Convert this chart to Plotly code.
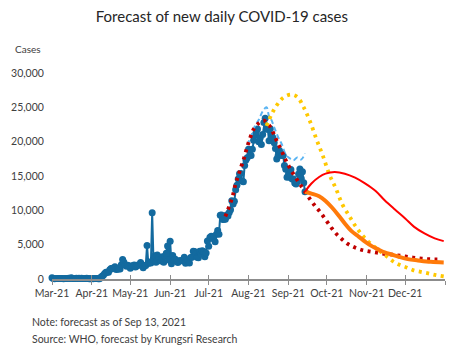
import pandas as pd
import plotly.graph_objects as go

# ---------------- data ----------------
obs_start = "2021-03-01"
obs_mar = [172, 91, 47, 65, 59, 70, 66, 61, 63, 47, 77, 61, 84, 94, 70, 181, 82, 87, 72, 95,
           61, 107, 69, 103, 85, 78, 90, 98, 76, 42, 42]
obs_apr = [56, 47, 84, 89, 84, 41, 48, 250, 405, 559, 789, 967, 985, 965, 1335, 1543, 1582, 1547,
           1767, 1390, 1443, 1458, 1470, 2070, 2839, 2438, 2048, 1871, 2012, 1902]
obs_may = [1583, 1891, 1940, 2041, 1763, 1911, 2044, 2052, 2419, 2101, 1630, 1919, 1983, 4887,
           2256, 2474, 2337, 9635, 2815, 3394, 2438, 3481, 3052, 2713, 2629, 3226, 2455, 3323,
           3759, 4803, 2771]
obs_jun = [5485, 2230, 3440, 2742, 2885, 2601, 2419, 2671, 2662, 2680, 2635, 3175, 2290, 2804,
           2662, 2331, 3129, 3174, 4059, 4006, 3682, 3175, 3097, 4059, 3644, 4108, 3995, 3245,
           3799, 5533]
obs_jul = [4786, 6087, 6230, 5916, 6166, 5420, 6519, 7058, 6519, 9276, 9326, 8656, 8685, 8685,
           9317, 9186, 9692, 10082, 11397, 10928, 11305, 13002, 13655, 14575, 15335, 15376,
           14260, 14150, 16533, 17345, 17669]
obs_aug = [18912, 18027, 17970, 18901, 20200, 20920, 21379, 21838, 19983, 20515, 19603, 21038,
           22782, 23418, 21808, 21839, 20128, 21882, 20902, 20571, 19851, 19014, 17491, 17915,
           18702, 18501, 17984, 17984, 16536, 15972, 14802]
obs_sep = [15100, 14802, 15942, 14555, 14555, 13988, 13821, 14176, 15300, 16030, 14657, 15614,
           14029, 12709]
observed = obs_mar + obs_apr + obs_may + obs_jun + obs_jul + obs_aug + obs_sep
obs_dates = pd.date_range(obs_start, periods=len(observed), freq="D")

lb_dates = ["2021-07-31", "2021-08-03", "2021-08-06", "2021-08-09", "2021-08-12", "2021-08-15",
            "2021-08-17", "2021-08-19", "2021-08-21", "2021-08-24", "2021-08-27", "2021-08-30",
            "2021-09-02", "2021-09-05", "2021-09-08", "2021-09-11", "2021-09-14"]
lb_values = [19500, 20800, 22300, 23200, 24400, 25000, 23700, 23100, 22100, 20700, 19600, 18100,
             17600, 17300, 17700, 17400, 18300]

fit_dates = ["2021-07-14", "2021-07-16", "2021-07-18", "2021-07-20", "2021-07-22", "2021-07-24",
             "2021-07-26", "2021-07-28", "2021-07-30", "2021-08-02", "2021-08-05", "2021-08-09",
             "2021-08-13", "2021-08-17", "2021-08-20", "2021-08-23", "2021-08-27", "2021-08-30",
             "2021-09-03", "2021-09-09", "2021-09-13", "2021-09-18", "2021-09-22", "2021-09-26",
             "2021-10-01", "2021-10-05", "2021-10-09", "2021-10-13", "2021-10-17", "2021-10-22",
             "2021-10-27", "2021-11-01", "2021-11-07", "2021-11-13", "2021-11-19", "2021-11-25",
             "2021-12-01", "2021-12-07", "2021-12-14", "2021-12-21", "2021-12-28"]
fit_values = [9100, 10100, 11100, 12300, 13900, 15000, 16200, 17300, 18600, 20400, 21800, 22700,
              23080, 22400, 21400, 20100, 18600, 17300, 15900, 14100, 13000, 11600, 10600, 9700,
              8400, 7350, 6450, 5750, 5150, 4650, 4300, 4080, 3900, 3720, 3600, 3450, 3280, 3120,
              2960, 2870, 2850]

yel_dates = ["2021-08-15", "2021-08-19", "2021-08-23", "2021-08-28", "2021-09-03", "2021-09-08",
             "2021-09-13", "2021-09-18", "2021-09-23", "2021-09-28", "2021-10-03", "2021-10-08",
             "2021-10-13", "2021-10-18", "2021-10-23", "2021-10-28", "2021-11-02", "2021-11-07",
             "2021-11-12", "2021-11-17", "2021-11-22", "2021-11-27", "2021-12-02", "2021-12-07",
             "2021-12-13", "2021-12-19", "2021-12-25", "2021-12-31"]
yel_values = [22300, 24000, 25300, 26400, 26850, 26500, 25000, 22900, 20300, 17900, 15200, 13200,
              10900, 9300, 7800, 6500, 5500, 4700, 3950, 3240, 2510, 2030, 1690, 1300, 1050, 820,
              560, 380]

red_dates = ["2021-09-14", "2021-09-19", "2021-09-25", "2021-09-30", "2021-10-07", "2021-10-15",
             "2021-10-23", "2021-10-31", "2021-11-08", "2021-11-15", "2021-11-23", "2021-12-01",
             "2021-12-08", "2021-12-16", "2021-12-24", "2021-12-31"]
red_values = [12709, 13900, 14850, 15340, 15570, 15340, 14760, 13890, 12820, 11470, 10120, 8810,
              7590, 6630, 5910, 5520]

org_dates = ["2021-09-14", "2021-09-19", "2021-09-25", "2021-09-30", "2021-10-05", "2021-10-10",
             "2021-10-15", "2021-10-20", "2021-10-26", "2021-10-31", "2021-11-05", "2021-11-10",
             "2021-11-15", "2021-11-21", "2021-11-26", "2021-12-03", "2021-12-11", "2021-12-21",
             "2021-12-31"]
org_values = [12709, 12440, 12050, 11370, 10410, 9290, 8080, 7010, 6140, 5410, 4790, 4310, 3880,
              3530, 3240, 2900, 2710, 2510, 2420]

tick_vals = ["2021-03-01", "2021-04-01", "2021-05-01", "2021-06-01", "2021-07-01", "2021-08-01",
             "2021-09-01", "2021-10-01", "2021-11-01", "2021-12-01", "2022-01-01"]
tick_text = ["Mar-21", "Apr-21", "May-21", "Jun-21", "Jul-21", "Aug-21", "Sep-21", "Oct-21",
             "Nov-21", "Dec-21", ""]
y_ticks = [0, 5000, 10000, 15000, 20000, 25000, 30000]

# ---------------- figure ----------------
FONT = "Lato"
TXT = "#404040"
DOTS = "3px,4.5px"

fig = go.Figure()
fig.add_trace(go.Scatter(x=obs_dates, y=observed, mode="lines+markers",
                         line=dict(color="#136A9F", width=2),
                         marker=dict(color="#136A9F", size=7), cliponaxis=False))
fig.add_trace(go.Scatter(x=lb_dates, y=lb_values, mode="lines", line_shape="spline",
                         line=dict(color="#5AB4F2", width=2, dash="5px,3px")))
fig.add_trace(go.Scatter(x=fit_dates, y=fit_values, mode="lines", line_shape="spline",
                         line=dict(color="#C00000", width=3.8, dash=DOTS)))
fig.add_trace(go.Scatter(x=yel_dates, y=yel_values, mode="lines", line_shape="spline",
                         line=dict(color="#FFC800", width=3.8, dash=DOTS)))
fig.add_trace(go.Scatter(x=org_dates, y=org_values, mode="lines", line_shape="spline",
                         line=dict(color="#FF7A0A", width=4)))
fig.add_trace(go.Scatter(x=red_dates, y=red_values, mode="lines", line_shape="spline",
                         line=dict(color="#FF0000", width=2)))
# invisible trace on the overlay axis carrying the inner tick marks
fig.add_trace(go.Scatter(x=[tick_vals[0]], y=[0], xaxis="x2", mode="markers",
                         marker=dict(opacity=0), hoverinfo="skip"))

x_range = ["2021-03-01", "2022-01-01"]
fig.update_layout(
    width=451, height=351, showlegend=False,
    paper_bgcolor="white", plot_bgcolor="white",
    margin=dict(l=52, r=6, t=73, b=72),
    font=dict(family=FONT, color=TXT, size=11),
    title=dict(text="Forecast of new daily COVID-19 cases", xref="container", yref="container",
               x=0.492, y=1 - 17 / 351, xanchor="center", yanchor="middle",
               font=dict(family=FONT, size=15, color="#262626")),
    xaxis=dict(type="date", range=x_range, tickvals=tick_vals, ticktext=tick_text,
               showgrid=False, zeroline=False, showline=True, linecolor="#8C8C8C", linewidth=1.5,
               ticks="outside", ticklen=4, tickcolor="#8C8C8C", tickwidth=1.2,
               tickfont=dict(size=10.5, color=TXT), tickangle=0),
    xaxis2=dict(type="date", range=x_range, overlaying="x", matches="x", tickvals=tick_vals,
                showticklabels=False, showgrid=False, zeroline=False, showline=False,
                ticks="inside", ticklen=4, tickcolor="#8C8C8C", tickwidth=1.2, anchor="y"),
    yaxis=dict(range=[0, 30000], tickvals=y_ticks, tickformat=",d", showgrid=False,
               zeroline=False, showline=False, ticks="outside", ticklen=5,
               tickcolor="rgba(0,0,0,0)", tickfont=dict(size=10.5, color=TXT)),
    annotations=[
        dict(text="Cases", xref="paper", yref="paper", x=-0.061, y=1.115, showarrow=False,
             xanchor="center", yanchor="middle", font=dict(size=10, color=TXT)),
        dict(text="Note: forecast as of Sep 13, 2021", xref="paper", yref="paper", x=-0.057,
             y=-0.207, showarrow=False, xanchor="left", yanchor="middle",
             font=dict(size=10.5, color=TXT)),
        dict(text="Source: WHO, forecast by Krungsri Research", xref="paper", yref="paper",
             x=-0.057, y=-0.289, showarrow=False, xanchor="left", yanchor="middle",
             font=dict(size=10.5, color=TXT)),
    ],
)

fig.write_html("out.html")
